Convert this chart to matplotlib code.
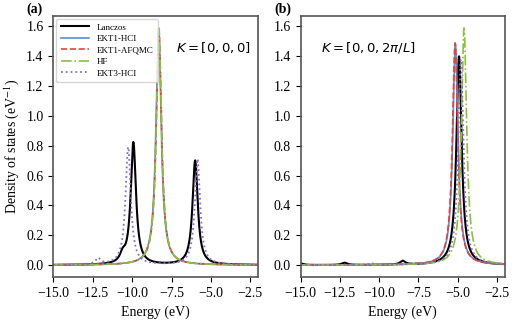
import numpy as np
import matplotlib.pyplot as plt

# peak energies (eV) and peak heights (eV^-1)
eta = 0.2  # Lorentzian broadening

# (a) K = [0,0,0]
lanczos_a_e = [-10.6, -9.92, -6.0]
lanczos_a_h = [0.05, 0.82, 0.70]
ekt1hci_a_e = [-8.32]
ekt1hci_a_h = [1.585]
ekt1afqmc_a_e = [-8.30]
ekt1afqmc_a_h = [1.58]
hf_a_e = [-8.30]
hf_a_h = [1.59]
ekt3_a_e = [-12.15, -10.25, -5.85]
ekt3_a_h = [0.04, 0.79, 0.71]

# (b) K = [0,0,2pi/L]
lanczos_b_e = [-15.0, -12.2, -8.5, -4.92]
lanczos_b_h = [0.01, 0.015, 0.025, 1.40]
ekt1hci_b_e = [-5.15]
ekt1hci_b_h = [1.48]
ekt1afqmc_b_e = [-5.17]
ekt1afqmc_b_h = [1.49]
hf_b_e = [-4.6]
hf_b_h = [1.59]
ekt3_b_e = [-10.5, -7.8, -4.8]
ekt3_b_h = [0.01, 0.01, 1.38]

plt.rcParams['font.family'] = ['Liberation Serif', 'DejaVu Serif']
plt.rcParams['font.size'] = 10

E = np.linspace(-15.5, -1.5, 3000)


def dos(energies, heights):
    out = np.zeros_like(E)
    for e0, h in zip(energies, heights):
        out += h * eta**2 / ((E - e0)**2 + eta**2)
    return out


styles = [
    ('Lanczos', dict(color='black', ls='-', lw=1.5)),
    ('EKT1-HCI', dict(color='#5b8ed6', ls='-', lw=1.2)),
    ('EKT1-AFQMC', dict(color='#e0443c', ls='--', lw=1.2)),
    ('HF', dict(color='#8cbf3f', ls='-.', lw=1.2)),
    ('EKT3-HCI', dict(color='#8a6cc9', ls=':', lw=1.3)),
]

panels = [
    [(lanczos_a_e, lanczos_a_h), (ekt1hci_a_e, ekt1hci_a_h),
     (ekt1afqmc_a_e, ekt1afqmc_a_h), (hf_a_e, hf_a_h), (ekt3_a_e, ekt3_a_h)],
    [(lanczos_b_e, lanczos_b_h), (ekt1hci_b_e, ekt1hci_b_h),
     (ekt1afqmc_b_e, ekt1afqmc_b_h), (hf_b_e, hf_b_h), (ekt3_b_e, ekt3_b_h)],
]
k_labels = [r'$K=[0,0,0]$', r'$K=[0,0,2\pi/L]$']
k_pos = [(0.60, 0.88), (0.10, 0.88)]
tags = ['(a)', '(b)']

fig = plt.figure(figsize=(5.2, 3.21), dpi=100)
ax_a = fig.add_axes([0.1025, 0.137, 0.394, 0.813])
ax_b = fig.add_axes([0.578, 0.137, 0.393, 0.813])

for ax, series, klab, kp, tag in zip([ax_a, ax_b], panels, k_labels, k_pos, tags):
    for (label, st), (en, hts) in zip(styles, series):
        ax.plot(E, dos(en, hts), label=label, **st)
    ax.set_xlim(-15, -2)
    ax.set_ylim(-0.08, 1.67)
    ax.set_xticks([-15, -12.5, -10, -7.5, -5, -2.5])
    ax.set_xticklabels(['\u221215.0', '\u221212.5', '\u221210.0', '\u22127.5', '\u22125.0', '\u22122.5'])
    ax.set_yticks([0, 0.2, 0.4, 0.6, 0.8, 1.0, 1.2, 1.4, 1.6])
    ax.set_xlabel('Energy (eV)')
    ax.text(kp[0], kp[1], klab, transform=ax.transAxes, fontsize=9.5,
            family='DejaVu Sans', ha='left', va='center')
    ax.text(-0.13, 1.0, tag, transform=ax.transAxes, fontweight='bold',
            fontsize=10, ha='left', va='bottom')
    for sp in ax.spines.values():
        sp.set_color('#555555')
        sp.set_linewidth(1.2)

ax_a.set_ylabel('Density of states (eV$^{-1}$)', math_fontfamily='stix')
ax_a.legend(loc='upper left', fontsize=6.5, handlelength=3.2, framealpha=0.8,
            borderpad=0.5, labelspacing=0.35, borderaxespad=0.3)

fig.savefig('out.png', dpi=100)
